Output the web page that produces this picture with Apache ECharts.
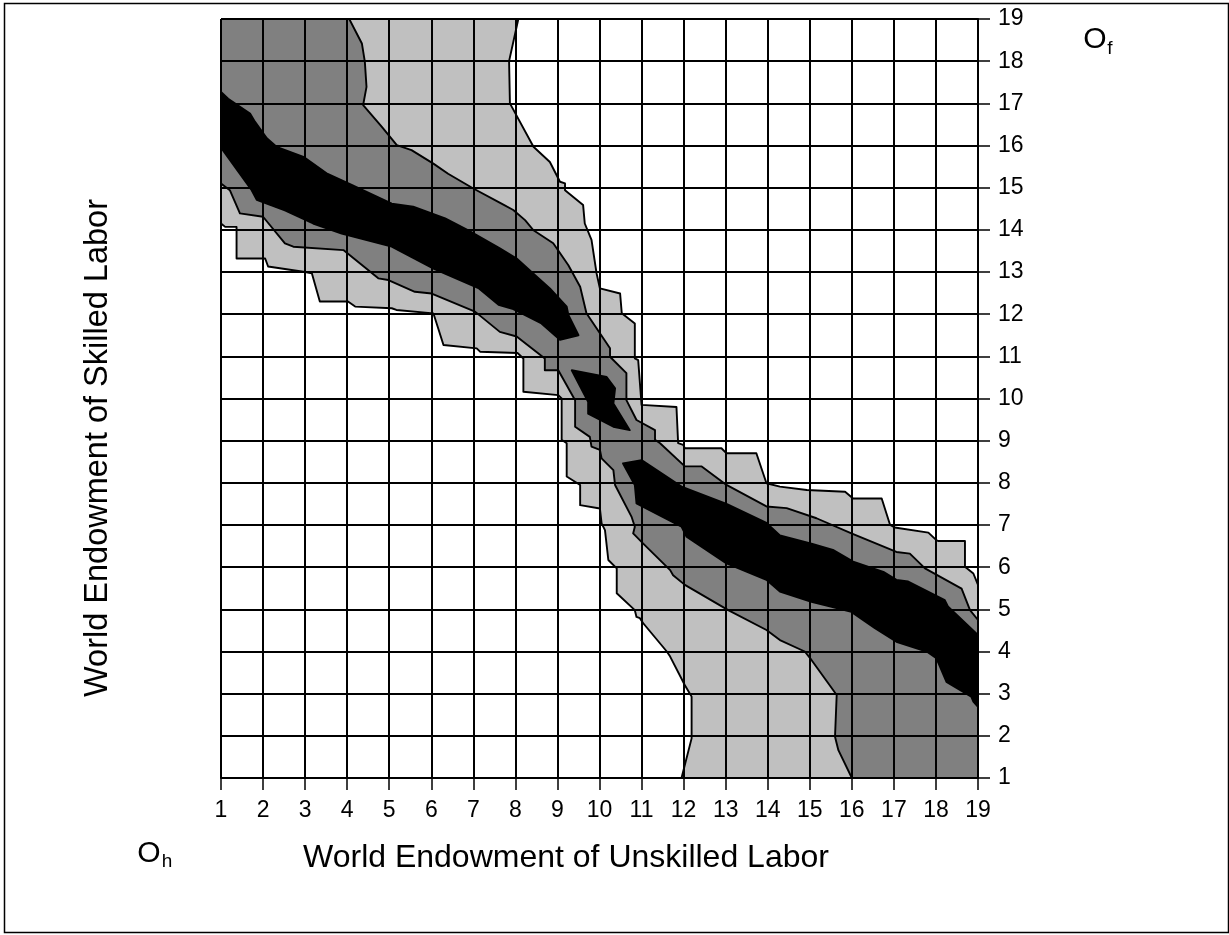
<!DOCTYPE html>
<html><head><meta charset="utf-8">
<script src="https://cdn.jsdelivr.net/npm/echarts@6/dist/echarts.min.js"></script>
<style>html,body{margin:0;padding:0;background:#fff}#c{width:1229px;height:935px}</style>
</head><body><div id="c"></div>
<script>
// axis ticks
var xTicks = [1,2,3,4,5,6,7,8,9,10,11,12,13,14,15,16,17,18,19];
var yTicks = [1,2,3,4,5,6,7,8,9,10,11,12,13,14,15,16,17,18,19];

// contour level regions in data units [unskilled, skilled]
var lightRegion = [[1,19],[8.07,19],[7.85,18],[7.87,17],[8.43,15.97],[8.82,15.61],[9.06,15.14],[9.18,15.1],[9.18,14.94],[9.61,14.59],[9.65,14.15],[9.81,13.76],[9.93,12.97],[10.01,12.61],[10.49,12.49],[10.53,12.02],[10.84,11.78],[10.84,10.95],[10.92,10.91],[11.0,9.85],[11.83,9.8],[11.87,8.94],[11.99,8.9],[12.03,8.82],[12.9,8.82],[13.02,8.7],[13.73,8.7],[13.97,7.99],[14.29,7.91],[14.93,7.83],[15.84,7.79],[16.03,7.63],[16.71,7.63],[16.91,7.0],[17.02,6.94],[17.82,6.82],[18.01,6.64],[18.05,6.62],[18.69,6.62],[18.69,6.01],[18.89,5.85],[19,5.58],[19,1],[11.95,1],[12.19,1.94],[12.19,2.93],[12.15,3.0],[12.03,3.2],[11.68,3.88],[11.6,4.0],[11.04,4.67],[10.96,4.79],[10.88,4.82],[10.84,4.98],[10.41,5.38],[10.41,5.97],[10.21,6.17],[10.13,6.88],[10.05,7.04],[10.01,7.39],[9.54,7.47],[9.54,7.95],[9.22,8.15],[9.22,8.94],[9.1,9.02],[9.1,10.0],[9.02,10.08],[8.19,10.16],[8.19,10.95],[8.05,11.08],[7.16,11.11],[7.08,11.19],[6.29,11.27],[6.05,12.02],[5.17,12.1],[5.06,12.14],[4.19,12.18],[4.02,12.3],[3.35,12.3],[3.16,12.97],[3.0,13.0],[2.12,13.13],[2.05,13.32],[1.37,13.32],[1.37,14.07],[1.1,14.07],[1,14.15]];

var midRegion = [[1,19],[4.05,19],[4.35,18.42],[4.42,17.99],[4.46,17.39],[4.38,16.96],[4.82,16.45],[5.18,16.01],[5.53,15.89],[6.05,15.57],[6.4,15.33],[7.0,14.98],[7.67,14.62],[7.95,14.47],[8.23,14.23],[8.43,13.99],[8.9,13.68],[9.26,13.16],[9.54,12.65],[9.69,12.02],[10.25,11.19],[10.25,10.99],[10.64,10.6],[10.64,9.96],[10.88,9.49],[11.32,9.25],[11.32,9.02],[11.44,8.94],[12.03,8.39],[12.43,8.39],[13.02,7.95],[13.97,7.44],[14.45,7.4],[15.16,7.16],[15.99,6.8],[17.06,6.36],[17.38,6.32],[17.74,5.97],[18.61,5.49],[18.81,4.98],[19,4.75],[19,1],[16,1],[15.68,1.66],[15.6,1.98],[15.64,2.97],[15.04,3.8],[14.88,4.0],[14.29,4.27],[13.97,4.51],[13.06,4.98],[12.03,5.58],[11.75,5.81],[11.68,5.93],[11.04,6.56],[10.8,6.8],[10.84,6.96],[10.76,7.2],[10.37,7.95],[10.33,8.3],[10.05,8.58],[10.01,8.78],[9.81,8.86],[9.77,9.09],[9.42,9.33],[9.42,9.96],[9.02,10.67],[8.7,10.67],[8.7,10.95],[8.03,11.47],[7.63,11.58],[7.04,12.06],[6.01,12.49],[5.61,12.53],[4.98,12.81],[4.74,12.85],[3.91,13.52],[2.72,13.6],[2.52,13.68],[2.0,14.31],[1.45,14.39],[1.21,14.94],[1,15.1]];

var blackUpper = [[1,17.27],[1.17,17.11],[1.69,16.76],[1.81,16.56],[2.09,16.17],[2.32,15.97],[2.96,15.73],[3.51,15.34],[4.03,15.1],[5.06,14.62],[5.57,14.55],[6.33,14.27],[6.88,13.99],[7.63,13.56],[8.03,13.32],[8.43,12.96],[8.82,12.61],[9.22,12.18],[9.26,11.98],[9.5,11.5],[9.06,11.39],[8.62,11.78],[7.95,12.12],[7.6,12.22],[7.12,12.62],[6.01,13.1],[5.06,13.6],[3.87,13.91],[3.19,14.15],[2.52,14.46],[1.85,14.71],[1.73,14.94],[1,15.95]];

var blackMiddle = [[9.34,10.67],[10.17,10.51],[10.37,10.24],[10.33,9.88],[10.72,9.25],[10.33,9.33],[9.73,9.64],[9.73,9.92]];

var blackLower = [[10.56,8.46],[11.0,8.54],[11.95,7.91],[12.15,7.83],[13.02,7.5],[13.97,7.05],[14.29,6.75],[15.04,6.56],[15.55,6.41],[16.03,6.13],[16.75,5.89],[17.06,5.7],[17.34,5.66],[18.21,5.22],[18.29,5.06],[19,4.39],[19,2.69],[18.89,2.81],[18.84,2.93],[18.25,3.28],[18.01,3.84],[17.78,4.0],[17.06,4.23],[16.55,4.55],[15.99,4.94],[15.52,5.06],[15.04,5.18],[14.29,5.42],[13.97,5.7],[13.02,6.09],[12.07,6.72],[11.95,6.96],[10.88,7.51],[10.84,7.95]];

var levels = [
  {name: 'light', poly: lightRegion, color: '#c0c0c0'},
  {name: 'mid', poly: midRegion, color: '#808080'},
  {name: 'black1', poly: blackUpper, color: '#000000'},
  {name: 'black2', poly: blackMiddle, color: '#000000'},
  {name: 'black3', poly: blackLower, color: '#000000'}
];

var FONT = '"Liberation Sans", Arial, Helvetica, sans-serif';
var chart = echarts.init(document.getElementById('c'), null, {renderer: 'canvas'});

var series = levels.map(function (lv, i) {
  return {
    type: 'custom',
    name: lv.name,
    z: 2 + i,
    silent: true,
    clip: true,
    data: [[10, 10]],
    renderItem: function (params, api) {
      var pts = lv.poly.map(function (p) { return api.coord(p); });
      return {
        type: 'polygon',
        shape: {points: pts},
        style: {fill: lv.color, stroke: '#000', lineWidth: 1.9, lineJoin: 'round'}
      };
    }
  };
});

var option = {
  backgroundColor: '#fff',
  animation: false,
  grid: {left: 221, right: 251, top: 19, bottom: 157, containLabel: false},
  xAxis: {
    type: 'value', min: 1, max: 19, interval: 1, z: 10,
    axisLine: {show: true, onZero: false, lineStyle: {color: '#000', width: 2}},
    axisTick: {show: true, length: 12, lineStyle: {color: '#000', width: 1.5}},
    splitLine: {show: true, lineStyle: {color: '#000', width: 2}},
    axisLabel: {
      margin: 21, color: '#000', fontSize: 23, fontFamily: FONT,
      formatter: function (v) { return xTicks.indexOf(v) >= 0 ? String(v) : ''; }
    }
  },
  yAxis: {
    type: 'value', position: 'right', min: 1, max: 19, interval: 1, z: 10,
    axisLine: {show: true, onZero: false, lineStyle: {color: '#000', width: 2}},
    axisTick: {show: true, length: 12, lineStyle: {color: '#000', width: 1.5}},
    splitLine: {show: true, lineStyle: {color: '#000', width: 2}},
    axisLabel: {
      margin: 20, color: '#000', fontSize: 23, fontFamily: FONT,
      formatter: function (v) { return yTicks.indexOf(v) >= 0 ? String(v) : ''; }
    }
  },
  graphic: [
    {type: 'rect', left: 2, top: 1, shape: {x: 0, y: 0, width: 1224, height: 929}, z: -1,
      style: {fill: 'none', stroke: '#000', lineWidth: 1.5}},
    {type: 'text', x: 566, y: 858, z: 20,
      style: {text: 'World Endowment of Unskilled Labor', font: '32px ' + FONT, fill: '#000', textAlign: 'center', textVerticalAlign: 'middle'}},
    {type: 'text', x: 98, y: 448, rotation: Math.PI / 2, z: 20,
      style: {text: 'World Endowment of Skilled Labor', font: '32.5px ' + FONT, fill: '#000', textAlign: 'center', textVerticalAlign: 'middle'}},
    {type: 'text', x: 149, y: 854, z: 20,
      style: {text: 'O', font: '30px ' + FONT, fill: '#000', textAlign: 'center', textVerticalAlign: 'middle'}},
    {type: 'text', x: 167, y: 862, z: 20,
      style: {text: 'h', font: '19px ' + FONT, fill: '#000', textAlign: 'center', textVerticalAlign: 'middle'}},
    {type: 'text', x: 1095, y: 40, z: 20,
      style: {text: 'O', font: '30px ' + FONT, fill: '#000', textAlign: 'center', textVerticalAlign: 'middle'}},
    {type: 'text', x: 1110, y: 49, z: 20,
      style: {text: 'f', font: '19px ' + FONT, fill: '#000', textAlign: 'center', textVerticalAlign: 'middle'}}
  ],
  series: series
};
chart.setOption(option);
</script>
</body></html>
